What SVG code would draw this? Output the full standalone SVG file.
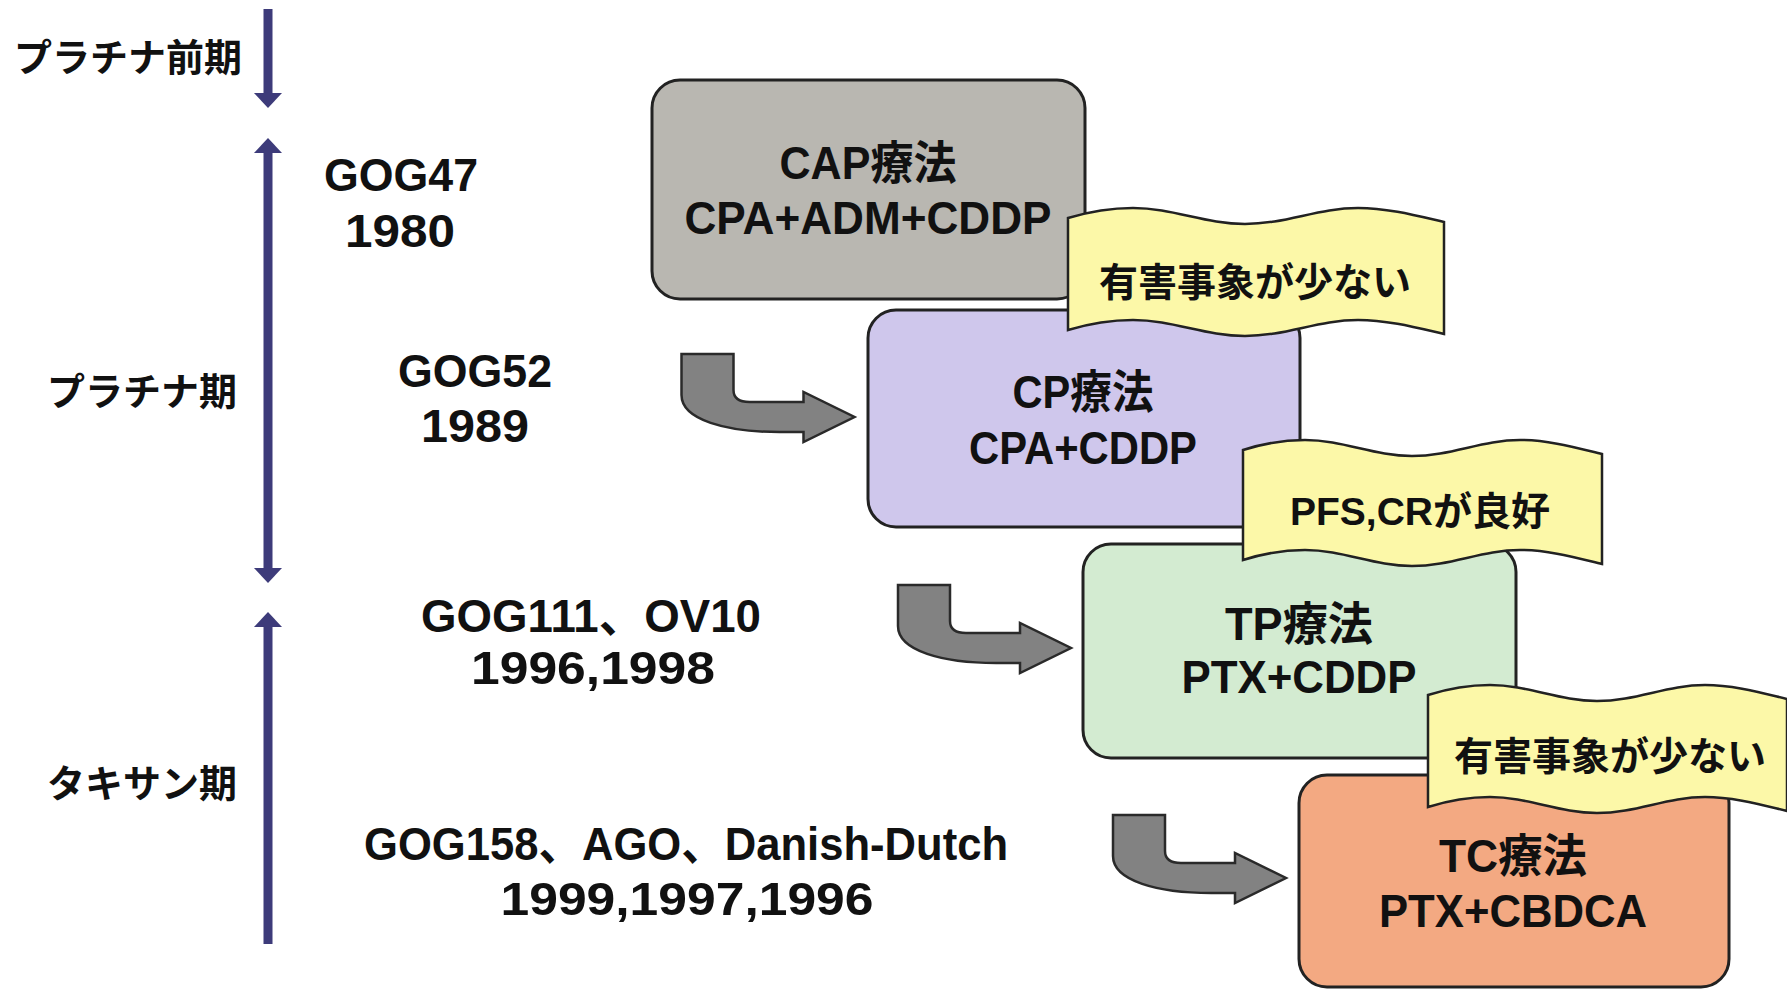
<svg xmlns="http://www.w3.org/2000/svg" width="1787" height="990" viewBox="0 0 1787 990">
<style>
.box{stroke:#222;stroke-width:3}
.banner{fill:#fcf8a8;stroke:#222;stroke-width:2.5}
.bent{fill:#828282;stroke:#2a2a2a;stroke-width:2.5;stroke-linejoin:miter}
.tl{fill:#3d3b7a}
.lat{font-family:"Liberation Sans","Noto Sans CJK JP",sans-serif;font-weight:700;font-size:46px;text-anchor:middle;fill:#111}
.jp{font-family:"Noto Sans CJK JP",sans-serif;font-weight:700;font-size:38px;text-anchor:end;fill:#111}
.bt{font-family:"Liberation Sans","Noto Sans CJK JP",sans-serif;font-weight:700;font-size:39px;text-anchor:middle;fill:#111}
</style>
<defs>
<path id="bentArrow" d="M0,0 H52 V36 Q52,48 68,48 H122 V38 L173,63 L122,88 V78 H98 C45,78 0,66 0,41 Z"/>
</defs>
<rect width="1787" height="990" fill="#ffffff"/>

<g id="timeline">
<g id="era-pre">
<rect class="tl" x="263.5" y="9" width="9" height="86"/>
<polygon class="tl" points="254,93 282,93 268,108"/>
<text class="jp" x="242" y="71">プラチナ前期</text>
</g>
<g id="era-platinum">
<polygon class="tl" points="268,138 254,153 282,153"/>
<rect class="tl" x="263.5" y="152" width="9" height="417"/>
<polygon class="tl" points="254,568 282,568 268,583"/>
<text class="jp" x="237" y="405">プラチナ期</text>
</g>
<g id="era-taxane">
<polygon class="tl" points="268,612 254,627 282,627"/>
<rect class="tl" x="263.5" y="626" width="9" height="318"/>
<text class="jp" x="237" y="797">タキサン期</text>
</g>
</g>

<g id="trials">
<g id="trial-gog47">
<text class="lat" x="401" y="191" textLength="154" lengthAdjust="spacingAndGlyphs">GOG47</text>
<text class="lat" x="400" y="247" textLength="110" lengthAdjust="spacingAndGlyphs">1980</text>
</g>
<g id="trial-gog52">
<text class="lat" x="475" y="387" textLength="154" lengthAdjust="spacingAndGlyphs">GOG52</text>
<text class="lat" x="475" y="442" textLength="108" lengthAdjust="spacingAndGlyphs">1989</text>
</g>
<g id="trial-gog111">
<text class="lat" x="591" y="632" textLength="340" lengthAdjust="spacingAndGlyphs">GOG111、OV10</text>
<text class="lat" x="593" y="684" textLength="244" lengthAdjust="spacingAndGlyphs">1996,1998</text>
</g>
<g id="trial-gog158">
<text class="lat" x="686" y="860" textLength="644" lengthAdjust="spacingAndGlyphs">GOG158、AGO、Danish-Dutch</text>
<text class="lat" x="687" y="915" textLength="373" lengthAdjust="spacingAndGlyphs">1999,1997,1996</text>
</g>
</g>

<g id="connectors">
<use href="#bentArrow" class="bent" transform="translate(681.5,354)"/>
<use href="#bentArrow" class="bent" transform="translate(898,585)"/>
<use href="#bentArrow" class="bent" transform="translate(1113,815)"/>
</g>

<g id="node-cap">
<rect class="box" x="652" y="80" width="433" height="219" rx="28" fill="#b9b7b1"/>
<text class="lat" x="868" y="179" textLength="177" lengthAdjust="spacingAndGlyphs">CAP療法</text>
<text class="lat" x="868" y="234" textLength="367" lengthAdjust="spacingAndGlyphs">CPA+ADM+CDDP</text>
</g>
<g id="node-cp">
<rect class="box" x="868" y="310" width="432" height="217" rx="28" fill="#cfc7ec"/>
<text class="lat" x="1083" y="408" textLength="141" lengthAdjust="spacingAndGlyphs">CP療法</text>
<text class="lat" x="1083" y="464" textLength="228" lengthAdjust="spacingAndGlyphs">CPA+CDDP</text>
</g>
<g id="node-tp">
<rect class="box" x="1083" y="544" width="433" height="214" rx="28" fill="#d3ebd1"/>
<text class="lat" x="1299" y="640" textLength="148" lengthAdjust="spacingAndGlyphs">TP療法</text>
<text class="lat" x="1299" y="693" textLength="235" lengthAdjust="spacingAndGlyphs">PTX+CDDP</text>
</g>
<g id="node-tc">
<rect class="box" x="1299" y="775" width="430" height="212" rx="28" fill="#f3a982"/>
<text class="lat" x="1513" y="872" textLength="148" lengthAdjust="spacingAndGlyphs">TC療法</text>
<text class="lat" x="1513" y="927" textLength="268" lengthAdjust="spacingAndGlyphs">PTX+CBDCA</text>
</g>

<g id="note-1">
<path class="banner" transform="translate(1068,216)" d="M0,2 C20,-4 45,-8 65,-8 C105,-8 137,8 177,8 C218,8 250,-8 290,-8 C320,-8 350,0 376,6 L376,118 C350,112 320,104 290,104 C250,104 218,120 177,120 C137,120 105,104 65,104 C45,104 20,108 0,114 Z"/>
<text class="bt" x="1255" y="296">有害事象が少ない</text>
</g>
<g id="note-2">
<path class="banner" transform="translate(1243,448)" d="M0,2 C19,-4 43,-8 62,-8 C100,-8 131,8 169,8 C208,8 239,-8 277,-8 C306,-8 334,0 359,6 L359,116 C334,110 306,102 277,102 C239,102 208,118 169,118 C131,118 100,102 62,102 C43,102 19,106 0,112 Z"/>
<text class="bt" x="1420" y="525">PFS,CRが良好</text>
</g>
<g id="note-3">
<path class="banner" transform="translate(1428,693)" d="M0,2 C19,-4 43,-8 62,-8 C100,-8 131,8 169,8 C208,8 239,-8 277,-8 C306,-8 334,0 359,6 L359,118 C334,112 306,104 277,104 C239,104 208,120 169,120 C131,120 100,104 62,104 C43,104 19,108 0,114 Z"/>
<text class="bt" x="1610" y="770" font-size="40">有害事象が少ない</text>
</g>
</svg>
